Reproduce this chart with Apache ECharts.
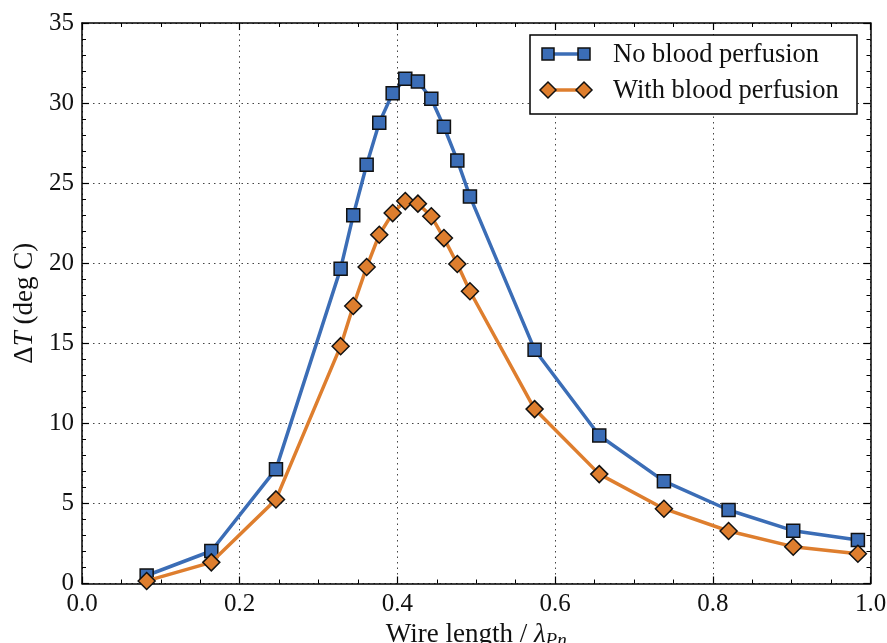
<!DOCTYPE html>
<html>
<head>
<meta charset="utf-8">
<script src="https://cdn.jsdelivr.net/npm/echarts@6/dist/echarts.min.js"></script>
<style>
html,body{margin:0;padding:0;background:#fff;}
#chart{width:887px;height:643px;}
</style>
</head>
<body>
<div id="chart"></div>
<script>
const wireLength = [0.082, 0.164, 0.246, 0.328, 0.344, 0.361, 0.377, 0.394, 0.410, 0.426, 0.443, 0.459, 0.476, 0.492, 0.574, 0.656, 0.738, 0.820, 0.902, 0.984];
const noPerfusion = [0.5, 2.03, 7.14, 19.66, 22.99, 26.15, 28.77, 30.62, 31.52, 31.35, 30.27, 28.52, 26.42, 24.17, 14.6, 9.24, 6.39, 4.59, 3.30, 2.71];
const withPerfusion = [0.16, 1.32, 5.25, 14.82, 17.33, 19.76, 21.78, 23.13, 23.88, 23.72, 22.93, 21.57, 19.95, 18.25, 10.89, 6.83, 4.67, 3.28, 2.30, 1.86];
const seriesNames = ['No blood perfusion', 'With blood perfusion'];
const xTicks = ['0.0', '0.2', '0.4', '0.6', '0.8', '1.0'];
const yTicks = [0, 5, 10, 15, 20, 25, 30, 35];

const BLUE = '#3B6DB6';
const ORANGE = '#DE7E2E';
const FONT = '"Liberation Serif", "DejaVu Serif", serif';

const chart = echarts.init(document.getElementById('chart'), null, {renderer: 'canvas'});

const gridLeft = 82, gridRight = 16.5, gridTop = 23, gridBottom = 59.5;

const pair = (xs, ys) => xs.map((x, i) => [x, ys[i]]);

const commonTick = {show: true, inside: true, length: 7, lineStyle: {color: '#000', width: 1.2}};
const commonMinor = {show: true, splitNumber: 4, length: 4, lineStyle: {color: '#000', width: 1}};

const option = {
  backgroundColor: '#fff',
  animation: false,
  grid: {left: gridLeft, right: gridRight, top: gridTop, bottom: gridBottom, containLabel: false, outerBoundsMode: 'none'},
  xAxis: [{
    type: 'value', min: 0, max: 1, interval: 0.2,
    axisLine: {show: true, onZero: false, lineStyle: {color: '#000', width: 1.5}},
    axisTick: commonTick,
    minorTick: commonMinor,
    axisLabel: {color: '#111', fontFamily: FONT, fontSize: 25, margin: 8,
      formatter: v => xTicks[Math.round(v / 0.2)]},
    splitLine: {show: true, lineStyle: {color: '#444', type: [1.5, 4], width: 1}},
    name: '{a|Wire length / }{i|λ}{s|Pn}',
    nameLocation: 'middle', nameGap: 33,
    nameTextStyle: {
      rich: {
        a: {fontFamily: FONT, fontSize: 27, color: '#111'},
        i: {fontFamily: FONT, fontSize: 27, fontStyle: 'italic', color: '#111'},
        s: {fontFamily: FONT, fontSize: 19, fontStyle: 'italic', color: '#111', padding: [13, 0, 0, 0]}
      }
    }
  }, {
    type: 'value', min: 0, max: 1, interval: 0.2, position: 'top',
    axisLine: {show: true, onZero: false, lineStyle: {color: '#000', width: 1.5}},
    axisTick: commonTick,
    minorTick: commonMinor,
    axisLabel: {show: false},
    splitLine: {show: false}
  }],
  yAxis: [{
    type: 'value', min: 0, max: 35, interval: 5,
    axisLine: {show: true, onZero: false, lineStyle: {color: '#000', width: 1.5}},
    axisTick: commonTick,
    minorTick: {show: true, splitNumber: 5, length: 4, lineStyle: {color: '#000', width: 1}},
    axisLabel: {color: '#111', fontFamily: FONT, fontSize: 25, margin: 8,
      formatter: v => String(yTicks[Math.round(v / 5)])},
    splitLine: {show: true, lineStyle: {color: '#444', type: [1.5, 4], width: 1}},
    name: '{r|Δ}{i|T}{r| (deg C)}',
    nameLocation: 'middle', nameGap: 44, nameRotate: 90,
    nameTextStyle: {
      rich: {
        r: {fontFamily: FONT, fontSize: 27, color: '#111'},
        i: {fontFamily: FONT, fontSize: 27, fontStyle: 'italic', color: '#111'}
      }
    }
  }, {
    type: 'value', min: 0, max: 35, interval: 5, position: 'right',
    axisLine: {show: true, onZero: false, lineStyle: {color: '#000', width: 1.5}},
    axisTick: commonTick,
    minorTick: {show: true, splitNumber: 5, length: 4, lineStyle: {color: '#000', width: 1}},
    axisLabel: {show: false},
    splitLine: {show: false}
  }],
  series: [{
    name: seriesNames[0], type: 'line',
    data: pair(wireLength, noPerfusion),
    smooth: false,
    symbol: 'rect', symbolSize: 13,
    lineStyle: {color: BLUE, width: 3.5},
    itemStyle: {color: BLUE, borderColor: '#111', borderWidth: 1.5},
    z: 3
  }, {
    name: seriesNames[1], type: 'line',
    data: pair(wireLength, withPerfusion),
    smooth: false,
    symbol: 'diamond', symbolSize: 17,
    lineStyle: {color: ORANGE, width: 3.5},
    itemStyle: {color: ORANGE, borderColor: '#111', borderWidth: 1.5},
    z: 4
  }],
  graphic: [
    {type: 'rect', shape: {x: 530, y: 35, width: 327, height: 79}, style: {fill: '#fff', stroke: '#000', lineWidth: 1.5}, z: 100},
    {type: 'line', shape: {x1: 548, y1: 54, x2: 584, y2: 54}, style: {stroke: BLUE, lineWidth: 3.5}, z: 101},
    {type: 'rect', shape: {x: 542, y: 48, width: 12, height: 12}, style: {fill: BLUE, stroke: '#111', lineWidth: 1.5}, z: 102},
    {type: 'rect', shape: {x: 578, y: 48, width: 12, height: 12}, style: {fill: BLUE, stroke: '#111', lineWidth: 1.5}, z: 102},
    {type: 'text', x: 613, y: 55, style: {text: seriesNames[0], font: '26.5px ' + FONT, fill: '#111', verticalAlign: 'middle'}, z: 102},
    {type: 'line', shape: {x1: 548, y1: 90, x2: 584, y2: 90}, style: {stroke: ORANGE, lineWidth: 3.5}, z: 101},
    {type: 'polygon', shape: {points: [[548, 82], [556, 90], [548, 98], [540, 90]]}, style: {fill: ORANGE, stroke: '#111', lineWidth: 1.5}, z: 102},
    {type: 'polygon', shape: {points: [[584, 82], [592, 90], [584, 98], [576, 90]]}, style: {fill: ORANGE, stroke: '#111', lineWidth: 1.5}, z: 102},
    {type: 'text', x: 613, y: 91, style: {text: seriesNames[1], font: '26.5px ' + FONT, fill: '#111', verticalAlign: 'middle'}, z: 102}
  ]
};
chart.setOption(option);
</script>
</body>
</html>
